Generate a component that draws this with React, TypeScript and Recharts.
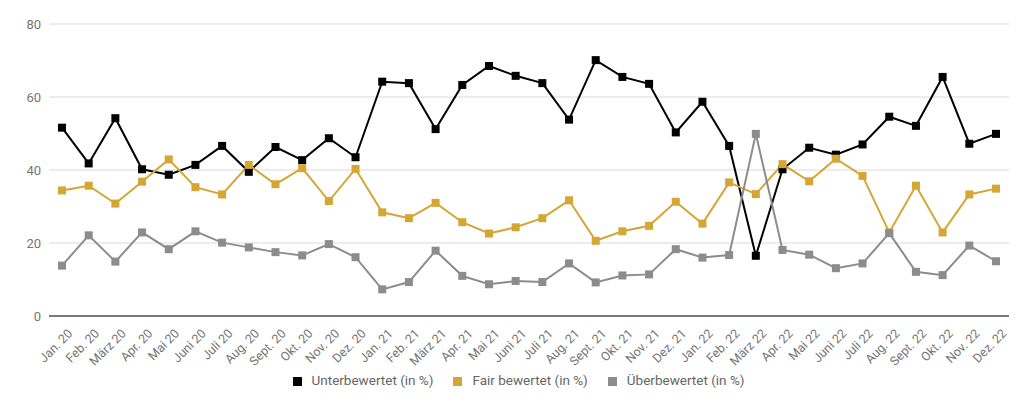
import React from "react";
import {
  LineChart,
  Line,
  XAxis,
  YAxis,
  CartesianGrid,
  Legend
} from "recharts";

const months = [
  "Jan. 20", "Feb. 20", "März 20", "Apr. 20", "Mai 20", "Juni 20",
  "Juli 20", "Aug. 20", "Sept. 20", "Okt. 20", "Nov. 20", "Dez. 20",
  "Jan. 21", "Feb. 21", "März 21", "Apr. 21", "Mai 21", "Juni 21",
  "Juli 21", "Aug. 21", "Sept. 21", "Okt. 21", "Nov. 21", "Dez. 21",
  "Jan. 22", "Feb. 22", "März 22", "Apr. 22", "Mai 22", "Juni 22",
  "Juli 22", "Aug. 22", "Sept. 22", "Okt. 22", "Nov. 22", "Dez. 22"
];

const unterbewertet = [
  51.6, 41.8, 54.2, 40.2, 38.7, 41.4, 46.6, 39.5, 46.3, 42.7, 48.7, 43.5,
  64.2, 63.8, 51.2, 63.3, 68.5, 65.8, 63.8, 53.8, 70.1, 65.5, 63.6, 50.3,
  58.7, 46.6, 16.5, 40.2, 46.1, 44.2, 47.0, 54.6, 52.1, 65.5, 47.2, 49.9
];

const fair = [
  34.4, 35.7, 30.8, 36.8, 42.9, 35.3, 33.3, 41.4, 36.1, 40.5, 31.5, 40.3,
  28.4, 26.8, 31.0, 25.7, 22.6, 24.3, 26.8, 31.7, 20.6, 23.2, 24.7, 31.3,
  25.3, 36.6, 33.4, 41.6, 36.9, 43.1, 38.4, 22.9, 35.7, 22.9, 33.3, 34.9
];

const ueberbewertet = [
  13.8, 22.1, 14.9, 22.9, 18.3, 23.2, 20.1, 18.8, 17.5, 16.6, 19.7, 16.1,
  7.3, 9.3, 17.9, 11.0, 8.7, 9.6, 9.3, 14.4, 9.2, 11.1, 11.4, 18.3,
  16.0, 16.7, 49.9, 18.1, 16.8, 13.1, 14.4, 22.7, 12.1, 11.2, 19.3, 15.0
];

const yTicks = [0, 20, 40, 60, 80];

// keys s1..s3 keep the legend in series order when sorted by dataKey
const data = months.map((m, i) => ({
  month: m,
  s1: unterbewertet[i],
  s2: fair[i],
  s3: ueberbewertet[i]
}));

const font = "Roboto, 'Noto Sans', sans-serif";

const SquareDot = (props: any) => {
  const { cx, cy, stroke } = props;
  if (cx == null || cy == null) return null;
  return <rect x={cx - 4} y={cy - 4} width={8} height={8} fill={stroke} />;
};

const MonthTick = (props: any) => {
  const { x, y, payload } = props;
  return (
    <g transform={`translate(${x + 5},${y + 4})`}>
      <text
        x={0}
        y={0}
        dy="0.71em"
        textAnchor="end"
        transform="rotate(-45)"
        fill="#757575"
        fontSize={12.5}
        fontFamily={font}
      >
        {payload.value}
      </text>
    </g>
  );
};

const legendText = (value: string) => (
  <span style={{ color: "#666", fontSize: 13.5, fontFamily: font, marginLeft: 6, marginRight: 10 }}>
    {value}
  </span>
);

export default function App() {
  return (
    <div style={{ position: "absolute", left: 0, top: 0, background: "#fff" }}>
      <LineChart
        width={1024}
        height={406}
        data={data}
        margin={{ top: 24, right: 15, left: 0, bottom: 0 }}
      >
        <CartesianGrid vertical={false} stroke="#dadada" strokeWidth={1} />
        <XAxis
          dataKey="month"
          interval={0}
          height={55}
          padding={{ left: 13, right: 13 }}
          tick={<MonthTick />}
          tickLine={false}
          axisLine={{ stroke: "#555", strokeWidth: 1.5 }}
        />
        <YAxis
          width={49}
          domain={[0, 80]}
          ticks={yTicks}
          tickLine={false}
          axisLine={false}
          tick={{ fill: "#757575", fontSize: 13, fontFamily: font }}
        />
        <Legend
          verticalAlign="bottom"
          height={35}
          iconType="square"
          iconSize={9}
          itemSorter="dataKey"
          formatter={legendText}
          wrapperStyle={{ paddingLeft: 24 }}
        />
        <Line
          dataKey="s1"
          name="Unterbewertet (in %)"
          stroke="#000000"
          strokeWidth={2}
          dot={<SquareDot />}
          activeDot={false}
          isAnimationActive={false}
        />
        <Line
          dataKey="s2"
          name="Fair bewertet (in %)"
          stroke="#d4a634"
          strokeWidth={2}
          dot={<SquareDot />}
          activeDot={false}
          isAnimationActive={false}
        />
        <Line
          dataKey="s3"
          name="Überbewertet (in %)"
          stroke="#8c8c8c"
          strokeWidth={2}
          dot={<SquareDot />}
          activeDot={false}
          isAnimationActive={false}
        />
      </LineChart>
    </div>
  );
}
